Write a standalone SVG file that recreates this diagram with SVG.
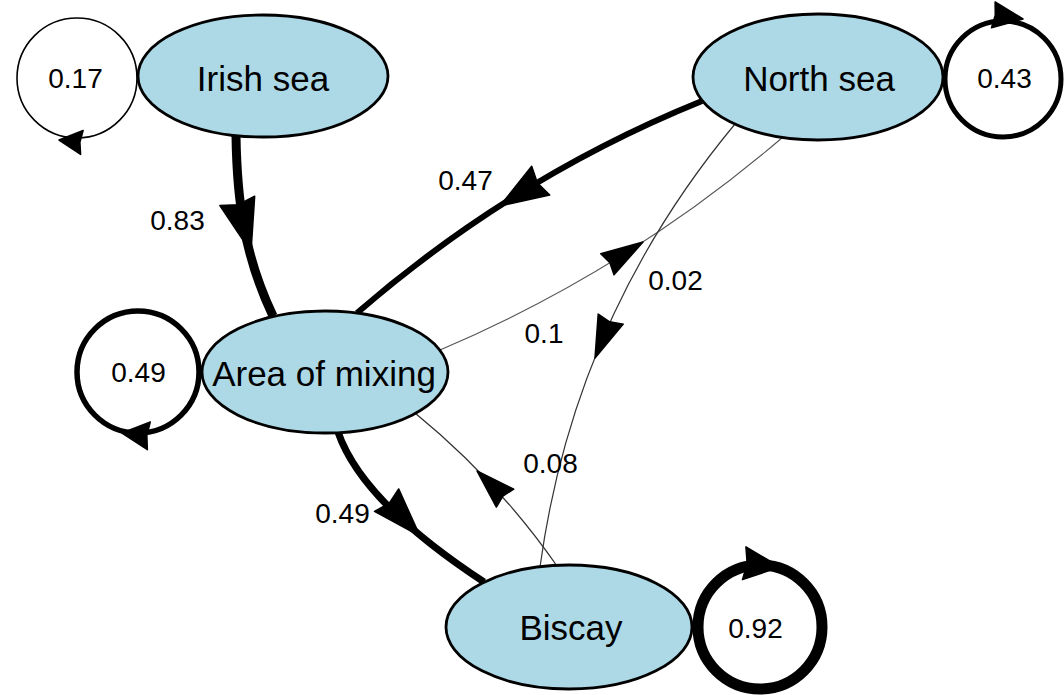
<svg xmlns="http://www.w3.org/2000/svg" width="1064" height="695" viewBox="0 0 1064 695">
  <defs>
    <style>
      .node ellipse { fill: #ADD8E6; stroke: #000; stroke-width: 2.8; }
      .node text { font-family: "Liberation Sans", Arial, sans-serif; font-size: 35px; fill: #000; text-anchor: middle; }
      .edge { fill: none; stroke-linecap: butt; }
      .loop { fill: none; stroke: #000; }
      .head { fill: #000; stroke: #000; stroke-linejoin: round; stroke-width: 1.5; }
      .elabel { font-family: "Liberation Sans", Arial, sans-serif; font-size: 28px; fill: #000; text-anchor: middle; }
    </style>
  </defs>

  <rect width="1064" height="695" fill="#fff"/>

  <g id="connectors">
    <!-- self loops -->
    <circle class="loop" cx="77" cy="78" r="60" stroke-width="1.6"/>
    <circle class="loop" cx="1003" cy="79" r="58" stroke-width="5"/>
    <circle class="loop" cx="138" cy="372" r="61" stroke-width="5.5"/>
    <circle class="loop" cx="760" cy="627" r="62" stroke-width="11"/>

    <!-- Irish sea -> Area of mixing -->
    <path class="edge" stroke="#000" stroke-width="9" d="M236,136 C237,200 244,255 273,316"/>
    <!-- North sea -> Area of mixing -->
    <path class="edge" stroke="#000" stroke-width="6" d="M702,101 Q514,177 357,313"/>
    <!-- Area of mixing -> North sea -->
    <path class="edge" stroke="#555" stroke-width="1.1" d="M440,350 Q628,270 783,137"/>
    <!-- North sea -> Biscay -->
    <path class="edge" stroke="#333" stroke-width="1.2" d="M735,124 Q574,318 540,567"/>
    <!-- Biscay -> Area of mixing -->
    <path class="edge" stroke="#333" stroke-width="1.3" d="M557,566 Q497,480 415,413"/>
    <!-- Area of mixing -> Biscay -->
    <path class="edge" stroke="#000" stroke-width="7" d="M338,432 Q362,502 484,582"/>

    <!-- arrowheads: local tip at origin, pointing along +x -->
    <path class="head" transform="translate(251,252) rotate(75)" d="M0,0 L-53,-18 L-49,0 L-53,18 Z"/>
    <path class="head" transform="translate(500,206) rotate(148)" d="M0,0 L-48,-17 L-44,0 L-48,17 Z"/>
    <path class="head" transform="translate(643,242) rotate(-32)" d="M0,0 L-42,-12.5 L-39,0 L-42,12.5 Z"/>
    <path class="head" transform="translate(595,358) rotate(112)" d="M0,0 L-42,-13.5 L-39,0 L-42,13.5 Z"/>
    <path class="head" transform="translate(477,471) rotate(-136)" d="M0,0 L-39,-12.5 L-36,0 L-39,12.5 Z"/>
    <path class="head" transform="translate(420,536) rotate(47)" d="M0,0 L-49,-16.5 L-45,0 L-49,16.5 Z"/>
    <path class="head" transform="translate(59,140) rotate(186)" d="M0,0 L-23,-12 L-21,0 L-23,12 Z"/>
    <path class="head" transform="translate(122,433) rotate(186)" d="M0,0 L-27,-14 L-25,0 L-27,14 Z"/>
    <path class="head" transform="translate(1023,19) rotate(8)" d="M0,0 L-30,-13 L-28,0 L-30,13 Z"/>
    <path class="head" transform="translate(780,567) rotate(6)" d="M0,0 L-36,-16.5 L-33,0 L-36,16.5 Z" stroke-width="4"/>
  </g>

  <g id="node-irish-sea" class="node">
    <ellipse cx="263" cy="76" rx="125" ry="61"/>
    <text x="263" y="91">Irish sea</text>
  </g>
  <g id="node-north-sea" class="node">
    <ellipse cx="818" cy="77" rx="125" ry="63"/>
    <text x="819" y="91">North sea</text>
  </g>
  <g id="node-area-of-mixing" class="node">
    <ellipse cx="325" cy="372" rx="123" ry="61"/>
    <text x="324" y="386">Area of mixing</text>
  </g>
  <g id="node-biscay" class="node">
    <ellipse cx="569" cy="627" rx="123" ry="62"/>
    <text x="571" y="640">Biscay</text>
  </g>

  <g id="edge-labels">
    <text class="elabel" x="75.5" y="87.5">0.17</text>
    <text class="elabel" x="1004.5" y="88">0.43</text>
    <text class="elabel" x="138.5" y="382">0.49</text>
    <text class="elabel" x="755.5" y="638">0.92</text>
    <text class="elabel" x="177.5" y="230">0.83</text>
    <text class="elabel" x="465.5" y="190">0.47</text>
    <text class="elabel" x="544" y="343">0.1</text>
    <text class="elabel" x="675.5" y="290">0.02</text>
    <text class="elabel" x="550.5" y="473">0.08</text>
    <text class="elabel" x="342.5" y="523">0.49</text>
  </g>
</svg>
